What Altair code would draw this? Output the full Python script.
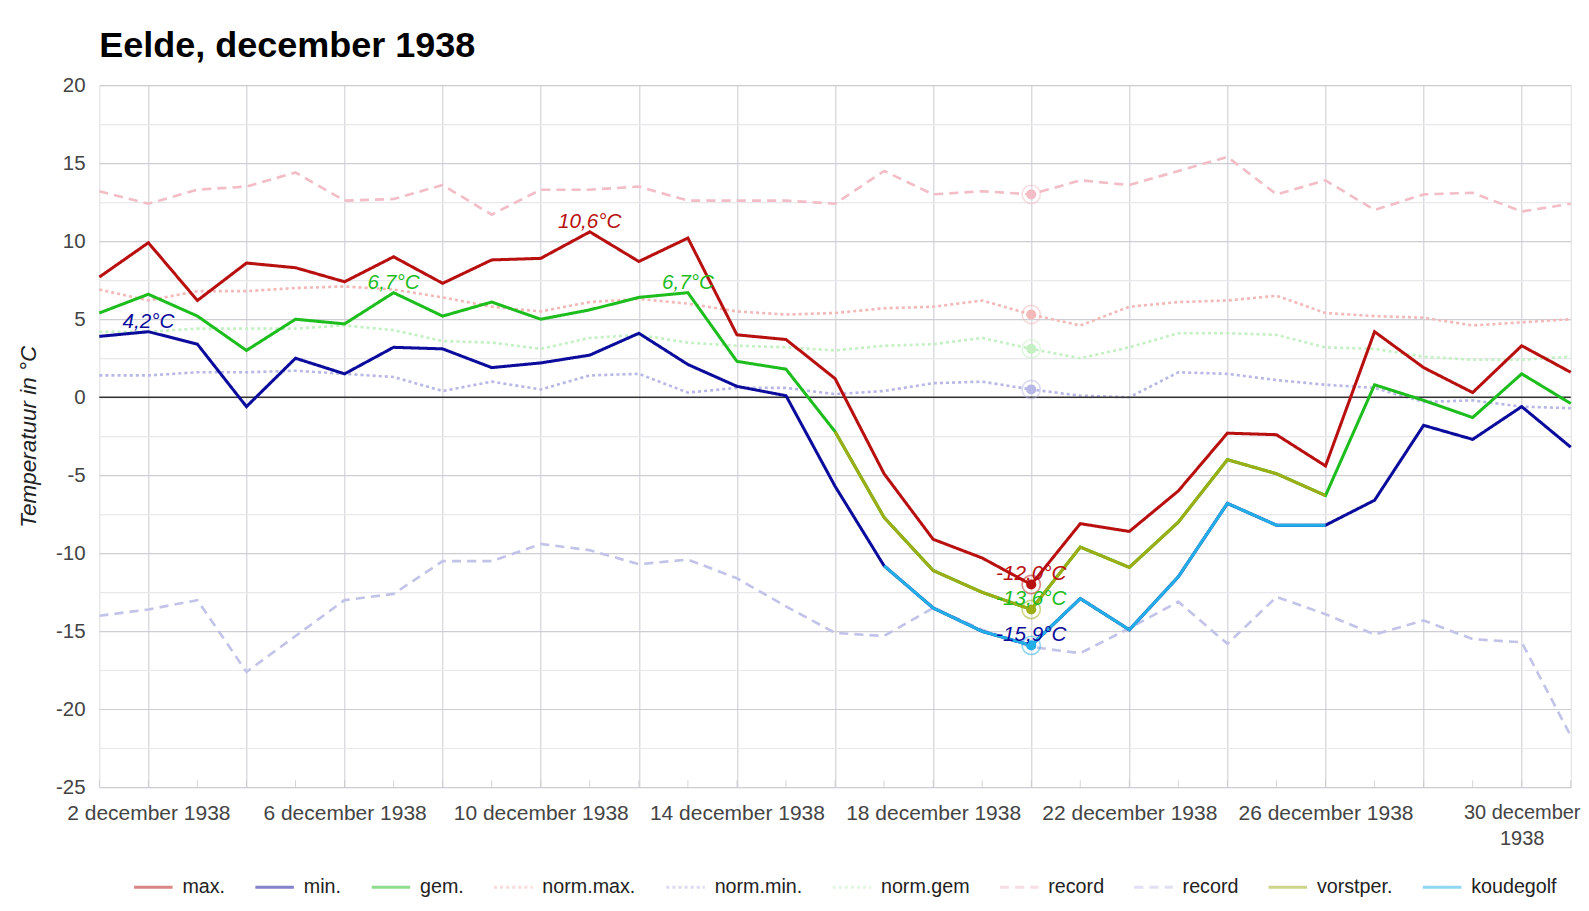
import altair as alt
import pandas as pd

FONT = "Liberation Sans"
K = 1.0134  # reference positions were read on a 1568-px-wide view of the 1589-px picture


def px(v):
    return round(v * K, 2)


# ---------------- data ----------------
days = list(range(1, 32))  # 1..31 december 1938

tmax = [7.7, 9.9, 6.2, 8.6, 8.3, 7.4, 9.0, 7.3, 8.8, 8.9, 10.6, 8.7, 10.2, 4.0, 3.7, 1.2,
        -4.9, -9.1, -10.3, -12.0, -8.1, -8.6, -6.0, -2.3, -2.4, -4.4, 4.2, 1.9, 0.3, 3.3, 1.6]
tmin = [3.9, 4.2, 3.4, -0.6, 2.5, 1.5, 3.2, 3.1, 1.9, 2.2, 2.7, 4.1, 2.1, 0.7, 0.1, -5.7,
        -10.8, -13.5, -15.0, -15.9, -12.9, -14.9, -11.5, -6.8, -8.2, -8.2, -6.6, -1.8, -2.7, -0.6, -3.2]
tgem = [5.4, 6.6, 5.2, 3.0, 5.0, 4.7, 6.7, 5.2, 6.1, 5.0, 5.6, 6.4, 6.7, 2.3, 1.8, -2.2,
        -7.7, -11.1, -12.5, -13.6, -9.6, -10.9, -8.0, -4.0, -4.9, -6.3, 0.8, -0.2, -1.3, 1.5, -0.4]
norm_max = [6.9, 6.2, 6.8, 6.8, 7.0, 7.1, 6.9, 6.4, 5.8, 5.5, 6.1, 6.3, 6.0, 5.5, 5.3, 5.4,
            5.7, 5.8, 6.2, 5.3, 4.6, 5.8, 6.1, 6.2, 6.5, 5.4, 5.2, 5.1, 4.6, 4.8, 5.0]
norm_min = [1.4, 1.4, 1.6, 1.6, 1.7, 1.5, 1.3, 0.4, 1.0, 0.5, 1.4, 1.5, 0.3, 0.6, 0.6, 0.2,
            0.4, 0.9, 1.0, 0.5, 0.1, 0.0, 1.6, 1.5, 1.1, 0.8, 0.6, -0.3, -0.2, -0.6, -0.7]
norm_gem = [4.2, 4.2, 4.4, 4.4, 4.4, 4.6, 4.3, 3.6, 3.5, 3.1, 3.8, 4.0, 3.5, 3.3, 3.2, 3.0,
            3.3, 3.4, 3.8, 3.1, 2.5, 3.2, 4.1, 4.1, 4.0, 3.2, 3.1, 2.6, 2.4, 2.4, 2.6]
rec_max = [13.2, 12.4, 13.3, 13.5, 14.4, 12.6, 12.7, 13.6, 11.7, 13.3, 13.3, 13.5, 12.6, 12.6,
           12.6, 12.4, 14.5, 13.0, 13.2, 13.0, 13.9, 13.6, 14.5, 15.4, 13.0, 13.9, 12.0, 13.0,
           13.1, 11.9, 12.4]
rec_min = [-14.0, -13.6, -13.0, -17.6, -15.3, -13.0, -12.6, -10.5, -10.5, -9.4, -9.8, -10.7,
           -10.4, -11.6, -13.4, -15.1, -15.3, -13.5, -14.9, -16.0, -16.4, -14.8, -13.1, -15.8,
           -12.8, -13.9, -15.2, -14.3, -15.5, -15.7, -21.7]

vorst_first, vorst_last = 16, 26    # vorstperiode (drawn over gem.)
koude_first, koude_last = 17, 26    # koudegolf (drawn over min.)

series_names = ["max.", "min.", "gem.", "norm.max.", "norm.min.", "norm.gem",
                "record max", "record min", "vorstper.", "koudegolf"]
series_colors = ["#b80f0f", "#0b0b9c", "#1ebd1e", "#f3b8b8", "#b8b8e6", "#c4f0c4",
                 "#f2bdc6", "#c3c3ea", "#9dad16", "#22aee6"]
dot_dash = [px(3), px(3)]
rec_dash = [px(9), px(6)]
solid = [1, 0]
series_dash = [solid, solid, solid, dot_dash, dot_dash, dot_dash, rec_dash, rec_dash, solid, solid]

grid_days = list(range(2, 31, 2))
label_days = list(range(2, 31, 4))
y_ticks = [-25, -22.5, -20, -17.5, -15, -12.5, -10, -7.5, -5, -2.5, 0,
           2.5, 5, 7.5, 10, 12.5, 15, 17.5, 20]

marker_day = 20
ann = [("min.", 2), ("gem.", 7), ("max.", 11), ("gem.", 13),
       ("max.", 20), ("vorstper.", 20), ("koudegolf", 20)]
ann_colors = ["#0b0b9c", "#1ebd1e", "#b80f0f", "#1ebd1e", "#b80f0f", "#1ebd1e", "#0b0b9c"]
marker_series = ["record max", "norm.max.", "norm.gem", "norm.min.", "max.", "vorstper.", "koudegolf"]

# ---------------- build tables ----------------
full = {"max.": tmax, "min.": tmin, "gem.": tgem, "norm.max.": norm_max,
        "norm.min.": norm_min, "norm.gem": norm_gem, "record max": rec_max,
        "record min": rec_min}
full["vorstper."] = [v if vorst_first <= d <= vorst_last else None for d, v in zip(days, tgem)]
full["koudegolf"] = [v if koude_first <= d <= koude_last else None for d, v in zip(days, tmin)]

rows = []
for s in series_names:
    for d, v in zip(days, full[s]):
        if v is not None:
            rows.append({"day": d, "temp": v, "series": s})
df = pd.DataFrame(rows)

color_of = dict(zip(series_names, series_colors))
mk = pd.DataFrame([{"day": marker_day, "temp": full[s][marker_day - 1], "mcolor": color_of[s]}
                   for s in marker_series])
an = pd.DataFrame([{"day": d, "temp": full[s][d - 1],
                    "txt": f"{full[s][d - 1]:.1f}".replace(".", ",") + "°C",
                    "mcolor": c} for (s, d), c in zip(ann, ann_colors)])
zero_df = pd.DataFrame({"temp": [0]})
tick_df = pd.DataFrame({"day": days, "temp": [y_ticks[0]] * len(days)})

# ---------------- encodings ----------------
label_expr = (f"indexof({label_days}, datum.value) >= 0 ? "
              "(datum.value == 30 ? ['30 december', '1938'] : datum.value + ' december 1938') : ''")

X = alt.X("day:Q", title=None,
          scale=alt.Scale(domain=[days[0], days[-1]], nice=False, zero=False),
          axis=alt.Axis(values=grid_days, labelExpr=label_expr, labelOverlap=False,
                        labelFlush=False, labelBound=False, ticks=False, domain=False,
                        grid=True, gridColor="#cbcbd4", gridWidth=px(1),
                        labelFontSize={"condition": {"test": "datum.value == 30", "value": 20},
                                       "value": 21},
                        labelColor="#444444",
                        labelFont=FONT, labelPadding=15.5, labelLineHeight=26))
Y = alt.Y("temp:Q", title="Temperatuur in °C",
          scale=alt.Scale(domain=[-25, 20], nice=False, zero=False),
          axis=alt.Axis(values=y_ticks,
                        labelExpr="datum.value % 5 === 0 ? '' + datum.value : ''",
                        gridColor={"condition": {"test": "datum.value % 5 === 0", "value": "#cdcdd3"},
                                   "value": "#e7e7ec"},
                        gridWidth=px(1),
                        ticks=False, domain=False, labelFontSize=20.5, labelColor="#444444",
                        labelFont=FONT, labelPadding=px(14), titleFont=FONT, titleFontSize=22.5,
                        titleFontStyle="italic", titleFontWeight="normal", titleColor="#222222",
                        titlePadding=15))

legend = alt.Legend(title=None, orient="none", legendX=33, legendY=781,
                    direction="horizontal", columns=10, symbolType="stroke",
                    symbolSize=px(38) ** 2, symbolStrokeWidth=px(3), symbolOpacity=1,
                    labelFontSize=19.7, labelFont=FONT, labelColor="#222222",
                    columnPadding=px(23), labelOffset=px(8), padding=0, labelLimit=400,
                    labelExpr="indexof(datum.label, 'record') === 0 ? 'record' : datum.label")
C = alt.Color("series:N", scale=alt.Scale(domain=series_names, range=series_colors), legend=legend)
D = alt.StrokeDash("series:N", scale=alt.Scale(domain=series_names, range=series_dash), legend=legend)

base = alt.Chart(df)
bg_lines = base.transform_filter(
    alt.FieldOneOfPredicate(field="series", oneOf=series_names[3:8])
).mark_line(strokeWidth=px(2.6)).encode(x=X, y=Y, color=C, strokeDash=D, order="day:Q")
main_lines = base.transform_filter(
    alt.FieldOneOfPredicate(field="series", oneOf=series_names[0:3])
).mark_line(strokeWidth=px(3)).encode(x=X, y=Y, color=C, strokeDash=D, order="day:Q")
over_lines = base.transform_filter(
    alt.FieldOneOfPredicate(field="series", oneOf=series_names[8:10])
).mark_line(strokeWidth=px(3)).encode(x=X, y=Y, color=C, strokeDash=D, order="day:Q")

zero_rule = alt.Chart(zero_df).mark_rule(color="#333333", strokeWidth=px(1.3)).encode(y=Y)
ticks = alt.Chart(tick_df).mark_tick(orient="vertical", size=px(7), yOffset=-px(3.5), thickness=1,
                                    color="#c4c4cc").encode(x=X, y=Y)

rings = alt.Chart(mk).mark_point(filled=False, size=px(18) ** 2, strokeWidth=px(1.6), opacity=0.5).encode(
    x=X, y=Y, color=alt.Color("mcolor:N", scale=None))
dots = alt.Chart(mk).mark_point(filled=True, size=px(10) ** 2, opacity=1).encode(
    x=X, y=Y, color=alt.Color("mcolor:N", scale=None))
labels = alt.Chart(an).mark_text(font=FONT, fontSize=20.7, fontStyle="italic",
                                 baseline="alphabetic", align="center", dy=-px(4)).encode(
    x=X, y=Y, text="txt:N", color=alt.Color("mcolor:N", scale=None))

chart = alt.layer(ticks, bg_lines, zero_rule, main_lines, over_lines, rings, dots, labels).properties(
    width=px(1452), height=px(693),
    autosize=alt.AutoSizeParams(type="none"),
    padding={"left": px(98) - 8, "top": px(84) - 8, "right": 10, "bottom": 112},
    title=alt.TitleParams("Eelde, december 1938", anchor="start", frame="group", fontSize=36,
                          fontWeight="bold", font=FONT, color="#000000", offset=px(28), dy=46,
                          baseline="alphabetic"),
).configure_view(fill="#f9f9fe", stroke=None).configure(font=FONT)

chart.save("out.html", embed_options={"renderer": "svg", "actions": False})
